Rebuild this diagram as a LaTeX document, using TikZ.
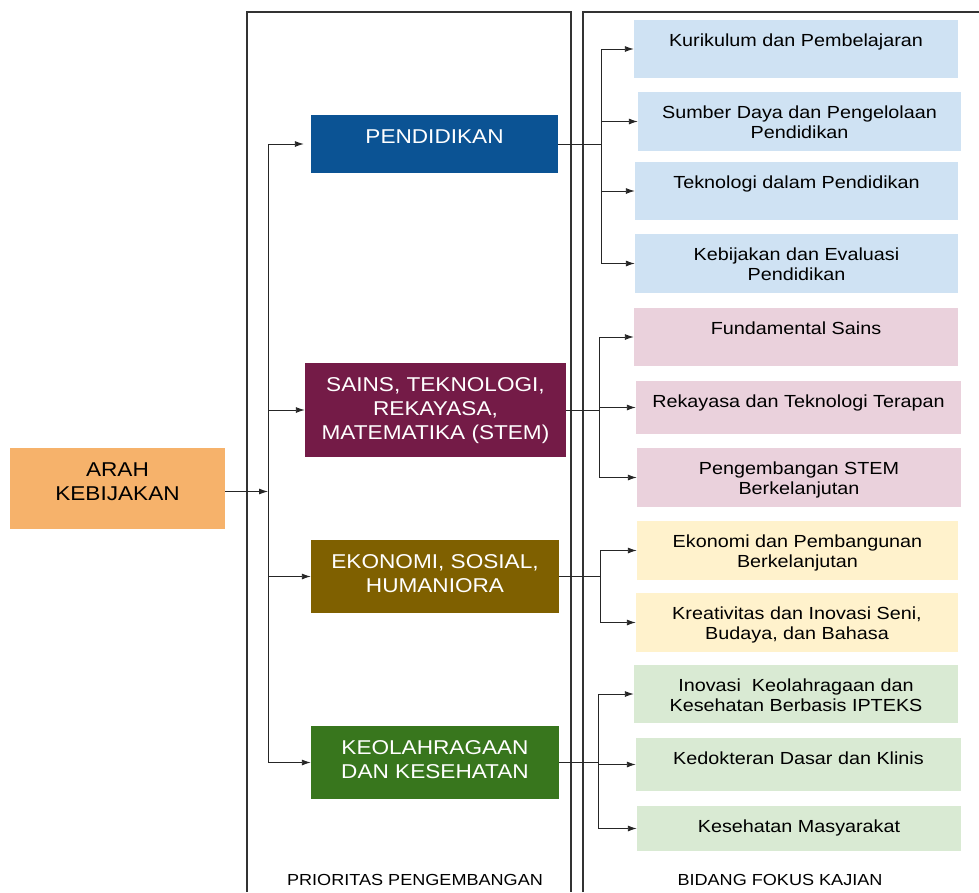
\documentclass[tikz,border=0pt]{standalone}
\usepackage{fontspec}
\setmainfont{Liberation Sans}[FakeStretch=1.13]
\usetikzlibrary{arrows.meta,positioning,calc}

\definecolor{arahC}{HTML}{F6B26B}
\definecolor{pendC}{HTML}{0B5394}
\definecolor{stemC}{HTML}{741B47}
\definecolor{ekoC}{HTML}{7F6000}
\definecolor{keoC}{HTML}{38761D}
\definecolor{blueL}{HTML}{CFE2F3}
\definecolor{pinkL}{HTML}{EAD1DC}
\definecolor{yellowL}{HTML}{FFF2CC}
\definecolor{greenL}{HTML}{D9EAD3}

\begin{document}
\begin{tikzpicture}[
        x=1pt, y=-1pt,
        panel/.style={draw=black!80, line width=1.3pt},
        box/.style={rectangle, inner sep=0pt, draw=none},
        ptext/.style={anchor=north, align=center, inner sep=0pt,
            text=white, font=\fontsize{20}{24}\selectfont},
        ftext/.style={anchor=north, align=center, inner sep=0pt,
            font=\fontsize{17.5}{20}\selectfont},
        link/.style={black!85, line width=0.9pt},
        arr/.style={link, -{Latex[length=9pt,width=6pt]}},
    ]
    \useasboundingbox (0,0) rectangle (979,892);
    % panels
    \draw[panel] (247,892) -- (247,12) -- (571,12) -- (571,892);
    \draw[panel] (583,892) -- (583,12) -- (979,12);
    \node[anchor=base, font=\fontsize{16}{19}\selectfont] (priolbl) at (415,885) {PRIORITAS PENGEMBANGAN};
    \node[anchor=base, font=\fontsize{16}{19}\selectfont] (fokuslbl) at (780,885) {BIDANG FOKUS KAJIAN};

    % arah kebijakan
    \node[box, fill=arahC, minimum width=215, minimum height=81] (arah) at (117.5,488.5) {};
    \node[ptext, text=black] (arahtxt) at ([yshift=-14.3]arah.north) {ARAH\\KEBIJAKAN};

    % prioritas
    \node[box, fill=pendC, minimum width=247, minimum height=58] (pend) at (434.5,144) {};
    \node[ptext] (pendtxt) at ([yshift=-14.3]pend.north) {PENDIDIKAN};
    \node[box, fill=stemC, minimum width=261, minimum height=94] (stem) at (435.5,410) {};
    \node[ptext] (stemtxt) at ([yshift=-14.3]stem.north) {SAINS, TEKNOLOGI,\\REKAYASA,\\MATEMATIKA (STEM)};
    \node[box, fill=ekoC, minimum width=248, minimum height=73] (eko) at (435,576.5) {};
    \node[ptext] (ekotxt) at ([yshift=-14.3]eko.north) {EKONOMI, SOSIAL,\\HUMANIORA};
    \node[box, fill=keoC, minimum width=248, minimum height=73] (keo) at (435,762.5) {};
    \node[ptext] (keotxt) at ([yshift=-14.3]keo.north) {KEOLAHRAGAAN\\DAN KESEHATAN};

    % bidang fokus: pendidikan
    \node[box, fill=blueL, minimum width=324, minimum height=58] (k1) at (796,49) {};
    \node[ftext] (k1t) at ([yshift=-13.6]k1.north) {Kurikulum dan Pembelajaran};
    \node[box, fill=blueL, minimum width=323, minimum height=59] (k2) at (799.5,121.5) {};
    \node[ftext] (k2t) at ([yshift=-13.6]k2.north) {Sumber Daya dan Pengelolaan\\Pendidikan};
    \node[box, fill=blueL, minimum width=323, minimum height=58] (k3) at (796.5,191) {};
    \node[ftext] (k3t) at ([yshift=-13.6]k3.north) {Teknologi dalam Pendidikan};
    \node[box, fill=blueL, minimum width=323, minimum height=59] (k4) at (796.5,263.5) {};
    \node[ftext] (k4t) at ([yshift=-13.6]k4.north) {Kebijakan dan Evaluasi\\Pendidikan};

    % bidang fokus: stem
    \node[box, fill=pinkL, minimum width=324, minimum height=58] (s1) at (796,337) {};
    \node[ftext] (s1t) at ([yshift=-13.6]s1.north) {Fundamental Sains};
    \node[box, fill=pinkL, minimum width=325, minimum height=53] (s2) at (798.5,407.5) {};
    \node[ftext] (s2t) at ([yshift=-13.6]s2.north) {Rekayasa dan Teknologi Terapan};
    \node[box, fill=pinkL, minimum width=324, minimum height=59] (s3) at (799,477.5) {};
    \node[ftext] (s3t) at ([yshift=-13.6]s3.north) {Pengembangan STEM\\Berkelanjutan};

    % bidang fokus: ekonomi
    \node[box, fill=yellowL, minimum width=321, minimum height=59] (e1) at (797.5,550.5) {};
    \node[ftext] (e1t) at ([yshift=-13.6]e1.north) {Ekonomi dan Pembangunan\\Berkelanjutan};
    \node[box, fill=yellowL, minimum width=322, minimum height=59] (e2) at (797,622.5) {};
    \node[ftext] (e2t) at ([yshift=-13.6]e2.north) {Kreativitas dan Inovasi Seni,\\Budaya, dan Bahasa};

    % bidang fokus: keolahragaan
    \node[box, fill=greenL, minimum width=324, minimum height=58] (h1) at (796,694) {};
    \node[ftext] (h1t) at ([yshift=-13.6]h1.north) {Inovasi\ \ Keolahragaan dan\\Kesehatan Berbasis IPTEKS};
    \node[box, fill=greenL, minimum width=325, minimum height=53] (h2) at (798.5,764.5) {};
    \node[ftext] (h2t) at ([yshift=-13.6]h2.north) {Kedokteran Dasar dan Klinis};
    \node[box, fill=greenL, minimum width=324, minimum height=45] (h3) at (799,828.5) {};
    \node[ftext] (h3t) at ([yshift=-13.6]h3.north) {Kesehatan Masyarakat};

    % arah -> prioritas
    \coordinate (trunk) at (268,0);
    \coordinate (arahout) at ([yshift=-3]arah.east);
    \draw[arr] (arahout) -- (trunk |- arahout);
    \draw[link] (trunk |- pend.west) -- (trunk |- keo.west);
    \draw[arr] (trunk |- pend.west) -- ([xshift=-7]pend.west);
    \draw[arr] (trunk |- stem.west) -- (stem.west);
    \draw[arr] (trunk |- eko.west) -- (eko.west);
    \draw[arr] (trunk |- keo.west) -- (keo.west);

    % prioritas -> bidang fokus
    \coordinate (kb) at (601,0);
    \draw[link] (pend.east) -- (kb |- pend.east);
    \draw[link] (kb |- k1.west) -- (kb |- k4.west);
    \foreach \n in {k1,k2,k3,k4}
        \draw[arr] (kb |- \n.west) -- (\n.west);

    \coordinate (sb) at (599,0);
    \draw[link] (stem.east) -- (sb |- stem.east);
    \draw[link] (sb |- s1.west) -- (sb |- s3.west);
    \foreach \n in {s1,s2,s3}
        \draw[arr] (sb |- \n.west) -- (\n.west);

    \coordinate (eb) at (600,0);
    \draw[link] (eko.east) -- (eb |- eko.east);
    \draw[link] (eb |- e1.west) -- (eb |- e2.west);
    \foreach \n in {e1,e2}
        \draw[arr] (eb |- \n.west) -- (\n.west);

    \coordinate (hb) at (598,0);
    \draw[link] (keo.east) -- (hb |- keo.east);
    \draw[link] (hb |- h1.west) -- (hb |- h3.west);
    \foreach \n in {h1,h2,h3}
        \draw[arr] (hb |- \n.west) -- (\n.west);
\end{tikzpicture}
\end{document}
